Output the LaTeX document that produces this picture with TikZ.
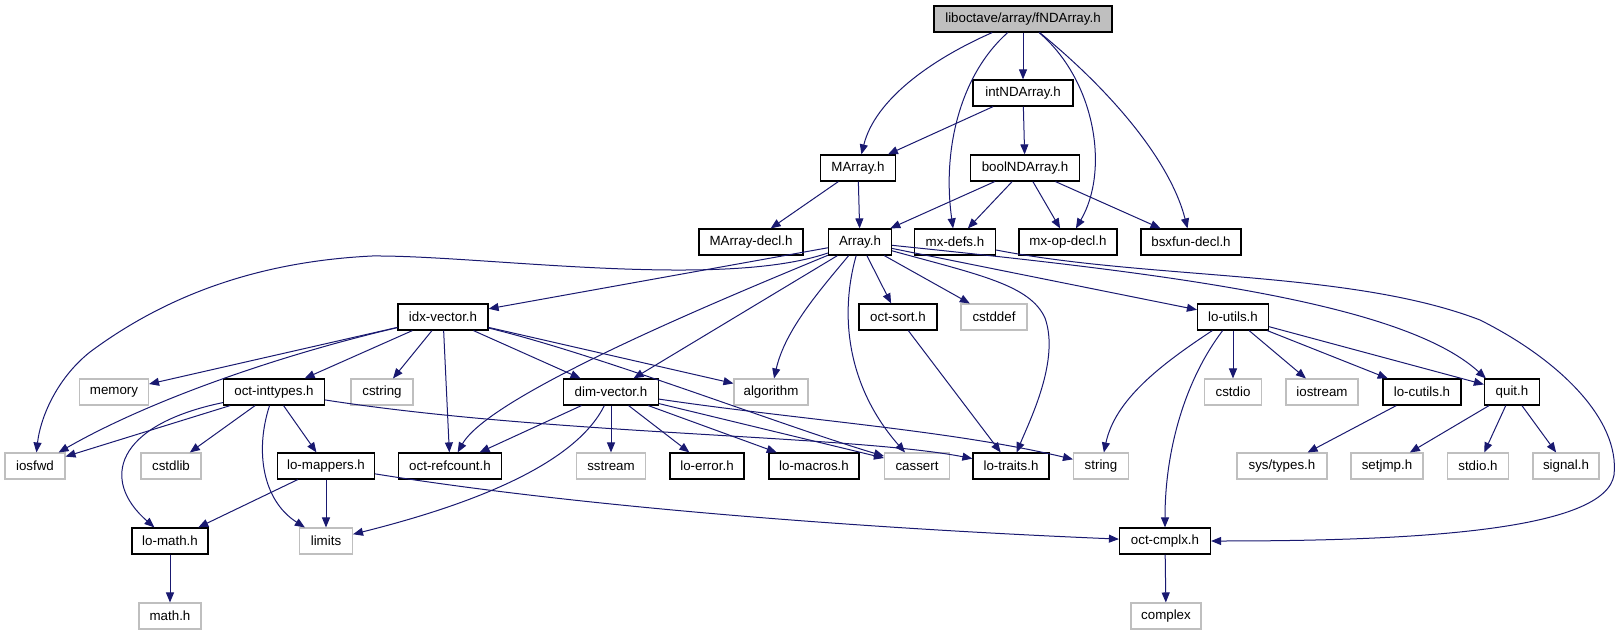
\documentclass[tikz,border=0pt]{standalone}
\usepackage{fontspec}
\setmainfont{Liberation Sans}
\usetikzlibrary{arrows.meta}
\definecolor{edgec}{HTML}{191970}
\definecolor{sysc}{HTML}{BFBFBF}
\tikzset{
  x=0.75pt, y=-0.75pt,
  box/.style={draw, rectangle, inner sep=0pt, minimum height=19.5pt, font=\fontsize{10}{12}\selectfont},
  proj/.style={box, draw=black, line width=0.9pt},
  sys/.style={box, draw=sysc, line width=0.8pt},
  bw/.style={minimum width=#1*0.75pt},
  dep/.style={draw=edgec, line width=0.75pt, -{Triangle[length=7.5pt,width=6pt]}, fill=none},
}
\begin{document}
\begin{tikzpicture}
\useasboundingbox (0,0) rectangle (1622,635);
% row 0
\node[proj, fill=sysc, bw=178] (fnd) at (1023,19) {liboctave/array/fNDArray.h};
% row 1
\node[proj, bw=100] (intnd) at (1023,93) {intNDArray.h};
% row 2
\node[proj, bw=75] (marray) at (858,168) {MArray.h};
\node[proj, bw=109] (boolnd) at (1025,168) {boolNDArray.h};
% row 3
\node[proj, bw=104] (marraydecl) at (751,242) {MArray-decl.h};
\node[proj, bw=63] (array) at (860,242) {Array.h};
\node[proj, bw=81] (mxdefs) at (955,242) {mx-defs.h};
\node[proj, bw=98] (mxop) at (1068,242) {mx-op-decl.h};
\node[proj, bw=100] (bsx) at (1191,242) {bsxfun-decl.h};
% row 4
\node[proj, bw=90] (idx) at (443,317) {idx-vector.h};
\node[proj, bw=78] (octsort) at (898,317) {oct-sort.h};
\node[sys, bw=66] (cstddef) at (994,317) {cstddef};
\node[proj, bw=71] (loutils) at (1233,317) {lo-utils.h};
% row 5
\node[sys, bw=69] (memory) at (114,392) {memory};
\node[proj, bw=101] (inttypes) at (274,392) {oct-inttypes.h};
\node[sys, bw=62] (cstring) at (382,392) {cstring};
\node[proj, bw=95] (dimv) at (611,392) {dim-vector.h};
\node[sys, bw=74] (algorithm) at (771,392) {algorithm};
\node[sys, bw=57] (cstdio) at (1233,392) {cstdio};
\node[sys, bw=72] (iostream) at (1322,392) {iostream};
\node[proj, bw=78] (locutils) at (1422,392) {lo-cutils.h};
\node[proj, bw=55] (quit) at (1512,392) {quit.h};
% row 6
\node[sys, bw=60] (iosfwd) at (35,466) {iosfwd};
\node[sys, bw=60] (cstdlib) at (171,466) {cstdlib};
\node[proj, bw=97] (lomappers) at (326,466) {lo-mappers.h};
\node[proj, bw=103] (refcount) at (450,466) {oct-refcount.h};
\node[sys, bw=69] (sstream) at (611,466) {sstream};
\node[proj, bw=74] (loerror) at (707,466) {lo-error.h};
\node[proj, bw=90] (lomacros) at (814,466) {lo-macros.h};
\node[sys, bw=65] (cassert) at (917,466) {cassert};
\node[proj, bw=76] (lotraits) at (1011,466) {lo-traits.h};
\node[sys, bw=55] (string) at (1101,466) {string};
\node[sys, bw=90] (systypes) at (1282,466) {sys/types.h};
\node[sys, bw=72] (setjmp) at (1387,466) {setjmp.h};
\node[sys, bw=61] (stdio) at (1478,466) {stdio.h};
\node[sys, bw=66] (signal) at (1566,466) {signal.h};
% row 7
\node[proj, bw=76] (lomath) at (170,541) {lo-math.h};
\node[sys, bw=53] (limits) at (326,541) {limits};
\node[proj, bw=91] (octcmplx) at (1165,541) {oct-cmplx.h};
% row 8
\node[sys, bw=62] (mathh) at (170,616) {math.h};
\node[sys, bw=70] (complex) at (1166,616) {complex};

% fNDArray
\draw[dep] (fnd) .. controls (930,60) and (875,100) .. (marray);
\draw[dep] (fnd) .. controls (960,75) and (942,150) .. (mxdefs);
\draw[dep] (fnd) -- (intnd);
\draw[dep] (fnd) .. controls (1095,80) and (1110,170) .. (mxop);
\draw[dep] (fnd) .. controls (1110,90) and (1170,160) .. (bsx);
% intNDArray
\draw[dep] (intnd) -- (marray);
\draw[dep] (intnd) -- (boolnd);
% MArray
\draw[dep] (marray) -- (marraydecl);
\draw[dep] (marray) -- (array);
% boolNDArray
\draw[dep] (boolnd) -- (array);
\draw[dep] (boolnd) -- (mxdefs);
\draw[dep] (boolnd) -- (mxop);
\draw[dep] (boolnd) -- (bsx);
% mx-defs
\draw[dep] (mxdefs) .. controls (1150,280) and (1350,270) .. (1480,320)
  .. controls (1560,360) and (1620,420) .. (1614,475)
  .. controls (1605,530) and (1420,541) .. (octcmplx);
% Array
\draw[dep] (array) .. controls (720,290) and (480,255) .. (372,256)
  .. controls (250,262) and (160,300) .. (90,352)
  .. controls (55,380) and (40,420) .. (iosfwd);
\draw[dep] (array) -- (idx);
\draw[dep] (array) .. controls (720,300) and (490,395) .. (refcount);
\draw[dep] (array) -- (dimv);
\draw[dep] (array) .. controls (820,290) and (785,330) .. (algorithm);
\draw[dep] (array) .. controls (838,320) and (850,390) .. (cassert);
\draw[dep] (array) -- (octsort);
\draw[dep] (array) -- (cstddef);
\draw[dep] (array) .. controls (980,275) and (1030,285) .. (1045,318)
  .. controls (1060,360) and (1030,420) .. (lotraits);
\draw[dep] (array) -- (loutils);
\draw[dep] (array) .. controls (1150,272) and (1400,300) .. ([xshift=1.5pt]quit.north west);
% idx-vector
\draw[dep] (idx) -- (memory);
\draw[dep] (idx) .. controls (280,355) and (150,400) .. (iosfwd);
\draw[dep] (idx) -- (inttypes);
\draw[dep] (idx) -- (cstring);
\draw[dep] (idx) -- (refcount);
\draw[dep] (idx) -- (dimv);
\draw[dep] (idx) -- (algorithm);
\draw[dep] (idx) .. controls (600,355) and (780,425) .. (cassert);
% oct-inttypes
\draw[dep] (inttypes) -- (iosfwd);
\draw[dep] (inttypes) -- (cstdlib);
\draw[dep] (inttypes) -- (lomappers);
\draw[dep] (inttypes) .. controls (255,450) and (262,500) .. (limits);
\draw[dep] (inttypes) .. controls (115,425) and (100,480) .. (lomath);
\draw[dep] (inttypes) .. controls (550,435) and (850,435) .. (lotraits);
% dim-vector
\draw[dep] (dimv) -- (refcount);
\draw[dep] (dimv) .. controls (575,465) and (470,505) .. (limits);
\draw[dep] (dimv) -- (sstream);
\draw[dep] (dimv) -- (loerror);
\draw[dep] (dimv) -- (lomacros);
\draw[dep] (dimv) -- (cassert);
\draw[dep] (dimv) .. controls (800,420) and (950,430) .. (string);
% lo-mappers
\draw[dep] (lomappers) -- (lomath);
\draw[dep] (lomappers) -- (limits);
\draw[dep] (lomappers) .. controls (600,510) and (900,530) .. (octcmplx);
% lo-math
\draw[dep] (lomath) -- (mathh);
% oct-sort
\draw[dep] (octsort) -- (lotraits);
% lo-utils
\draw[dep] (loutils) .. controls (1160,365) and (1115,400) .. (string);
\draw[dep] (loutils) .. controls (1185,380) and (1165,450) .. (octcmplx);
\draw[dep] (loutils) -- (cstdio);
\draw[dep] (loutils) -- (iostream);
\draw[dep] (loutils) -- (locutils);
\draw[dep] (loutils) -- (quit);
% lo-cutils
\draw[dep] (locutils) -- (systypes);
% quit
\draw[dep] (quit) -- (setjmp);
\draw[dep] (quit) -- (stdio);
\draw[dep] (quit) -- (signal);
% oct-cmplx
\draw[dep] (octcmplx) -- (complex);
\end{tikzpicture}
\end{document}
